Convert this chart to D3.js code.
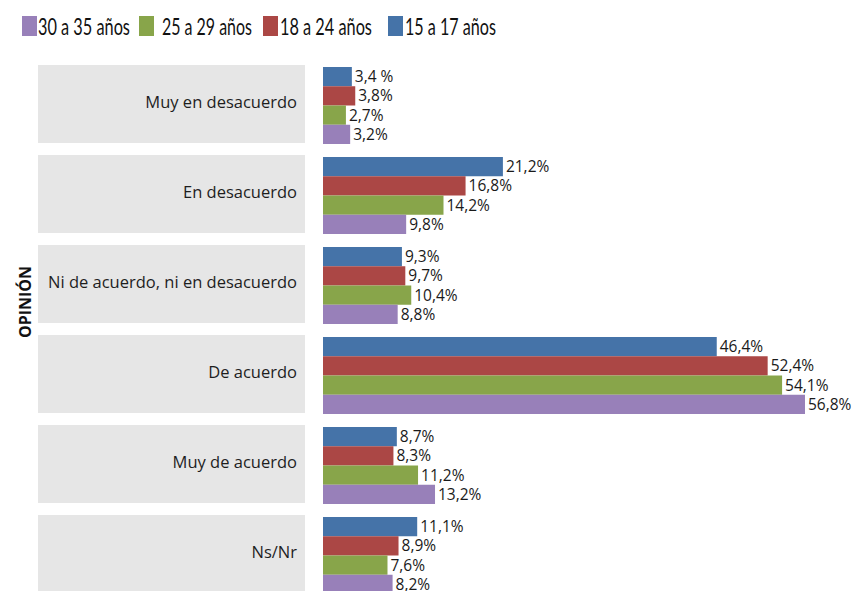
<!DOCTYPE html>
<html>
<head>
<meta charset="utf-8">
<script src="https://cdn.jsdelivr.net/npm/d3@7"></script>
<style>
  html, body { margin: 0; padding: 0; background: #ffffff; }
  svg { display: block; }
</style>
</head>
<body>
<svg id="chart" width="858" height="591"></svg>
<script>
// Opinion categories, top to bottom
const categories = [
  "Muy en desacuerdo",
  "En desacuerdo",
  "Ni de acuerdo, ni en desacuerdo",
  "De acuerdo",
  "Muy de acuerdo",
  "Ns/Nr"
];

// Age groups, drawn top to bottom inside each category
const seriesNames = ["15 a 17 años", "18 a 24 años", "25 a 29 años", "30 a 35 años"];
const seriesColors = ["#4573a8", "#ab4745", "#88a54a", "#9880b9"];

// Percentages per age group, in category order
const values15_17 = [3.4, 21.2, 9.3, 46.4, 8.7, 11.1];
const values18_24 = [3.8, 16.8, 9.7, 52.4, 8.3, 8.9];
const values25_29 = [2.7, 14.2, 10.4, 54.1, 11.2, 7.6];
const values30_35 = [3.2, 9.8, 8.8, 56.8, 13.2, 8.2];
const seriesValues = [values15_17, values18_24, values25_29, values30_35];

// Legend order (left to right)
const legendOrder = ["30 a 35 años", "25 a 29 años", "18 a 24 años", "15 a 17 años"];

const axisTitle = "OPINIÓN";

const num = v => d3.format(".1f")(v).replace(".", ",");
// The first label of the youngest group is written with a space before the sign
const labelText = (s, i, v) => (s === 0 && i === 0) ? num(v) + " %" : num(v) + "%";

const svg = d3.select("#chart");

// Scales
const x = d3.scaleLinear().domain([0, 56.8]).range([323, 805]);
const y = d3.scaleBand().domain(categories).range([67, 594]).paddingInner(13 / 90).paddingOuter(0);
const yInner = d3.scaleBand().domain(d3.range(seriesNames.length)).range([0, y.bandwidth()]);

// Category panels
const panels = svg.append("g");
panels.selectAll("rect")
  .data(categories)
  .join("rect")
  .attr("x", 38)
  .attr("y", d => y(d) - 2)
  .attr("width", 267)
  .attr("height", 78)
  .attr("fill", "#e6e6e6");

panels.selectAll("text")
  .data(categories)
  .join("text")
  .attr("x", 297)
  .attr("y", d => y(d) + 35)
  .attr("dy", "0.35em")
  .attr("text-anchor", "end")
  .attr("font-family", "'Open Sans', 'Noto Sans', sans-serif")
  .attr("font-size", 16.5)
  .attr("fill", "#1e1e1e")
  .text(d => d);

// Bars
const rows = [];
seriesValues.forEach((vals, s) => {
  vals.forEach((v, i) => rows.push({ s, i, cat: categories[i], v }));
});

const bars = svg.append("g");
bars.selectAll("rect")
  .data(rows)
  .join("rect")
  .attr("x", x(0))
  .attr("y", d => y(d.cat) + yInner(d.s))
  .attr("width", d => x(d.v) - x(0))
  .attr("height", yInner.bandwidth())
  .attr("fill", d => seriesColors[d.s]);

// Value labels
bars.selectAll("text")
  .data(rows)
  .join("text")
  .attr("x", d => x(d.v) + 3)
  .attr("y", d => y(d.cat) + yInner(d.s) + yInner.bandwidth() / 2)
  .attr("dy", "0.36em")
  .attr("font-family", "'Open Sans', 'Noto Sans', sans-serif")
  .attr("font-size", 15.5)
  .attr("fill", "#1a1a1a")
  .text(d => labelText(d.s, d.i, d.v));

// Axis title
svg.append("text")
  .attr("transform", "translate(31,302) rotate(-90)")
  .attr("text-anchor", "middle")
  .attr("font-family", "'Open Sans', 'Noto Sans', sans-serif")
  .attr("font-weight", "bold")
  .attr("font-size", 16)
  .attr("fill", "#111")
  .text(axisTitle);

// Legend: narrow lettering, each label squeezed horizontally to its slot
const legendSwatchX = [22, 139, 263, 388];
const legendTextX = [38, 162, 280, 405];
const legendTextW = [92, 90, 92, 91];
const legend = svg.append("g");
legendOrder.forEach((name, k) => {
  const s = seriesNames.indexOf(name);
  legend.append("rect")
    .attr("x", legendSwatchX[k])
    .attr("y", 16)
    .attr("width", 15)
    .attr("height", 20)
    .attr("fill", seriesColors[s]);
  const t = legend.append("text")
    .attr("x", 0)
    .attr("y", 0)
    .attr("font-family", "'Lato', sans-serif")
    .attr("font-size", 23)
    .attr("fill", "#111")
    .text(name);
  const natural = t.node().getComputedTextLength() || legendTextW[k];
  t.attr("transform", `translate(${legendTextX[k]},35) scale(${legendTextW[k] / natural},1)`);
});
</script>
</body>
</html>
